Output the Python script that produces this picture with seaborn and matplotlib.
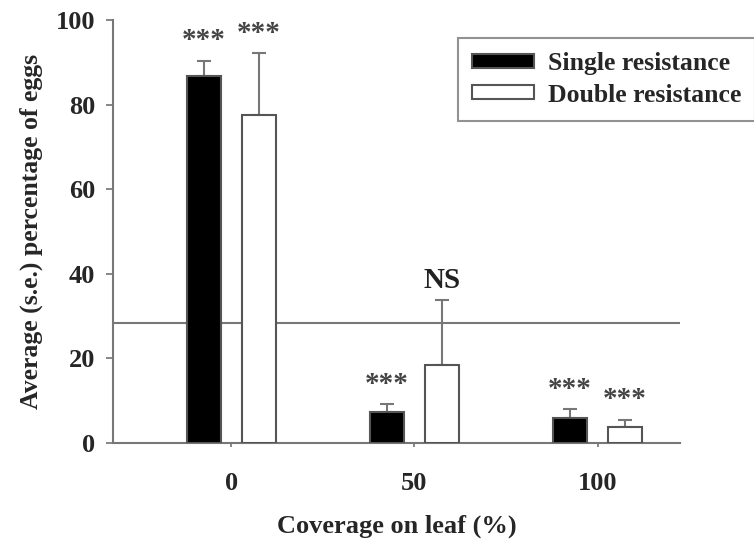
import matplotlib.pyplot as plt
import seaborn as sns
import pandas as pd

plt.switch_backend('Agg')
sns.set_theme(style="white")
plt.rcParams['font.family'] = ['Liberation Serif', 'DejaVu Serif']
plt.rcParams['font.weight'] = 'bold'

# data
coverage = ['0', '50', '100']
single_mean = [86.8, 7.3, 5.9]
single_se = [3.6, 1.8, 2.0]
double_mean = [77.5, 18.4, 3.8]
double_se = [14.7, 15.4, 1.7]
single_sig = ['***', '***', '***']
double_sig = ['***', 'NS', '***']
reference_level = 28.4

df = pd.DataFrame({
    'Coverage': coverage * 2,
    'Mean': single_mean + double_mean,
    'SE': single_se + double_se,
    'Type': ['Single resistance'] * 3 + ['Double resistance'] * 3,
})

fig = plt.figure(figsize=(7.54, 5.4), dpi=100)
ax = fig.add_axes([0.150, 0.180, 0.752, 0.783])

sns.barplot(data=df, x='Coverage', y='Mean', hue='Type', order=coverage,
            hue_order=['Single resistance', 'Double resistance'],
            palette={'Single resistance': 'black', 'Double resistance': 'white'},
            width=0.6, gap=0.38, errorbar=None, edgecolor='#555555',
            linewidth=1.5, ax=ax, zorder=3)

# upper-only error bars and significance labels
offsets = [-0.15, 0.15]
for j, (means, ses, sigs) in enumerate([(single_mean, single_se, single_sig),
                                        (double_mean, double_se, double_sig)]):
    for i in range(len(coverage)):
        x = i + offsets[j]
        ax.errorbar(x, means[i], yerr=[[0], [ses[i]]], fmt='none',
                    ecolor='#777777', elinewidth=1.5, capsize=5, capthick=1.5,
                    zorder=2)
        top = means[i] + ses[i]
        color = '#222222' if sigs[i] == 'NS' else '#444444'
        ax.text(x, top + 1.5, sigs[i], ha='center', va='bottom',
                fontsize=21, fontweight='bold', color=color)

ax.axhline(reference_level, color='#777777', lw=1.5, zorder=1)

ax.set_xlim(-0.645, 2.45)
ax.set_ylim(0, 100)
ax.set_yticks([0, 20, 40, 60, 80, 100])
ax.tick_params(axis='both', which='both', labelsize=19, length=5,
               color='#777777', direction='out', left=True, bottom=True)
ax.tick_params(axis='y', pad=8)
ax.tick_params(axis='x', length=3, pad=18)
for lab in ax.get_xticklabels() + ax.get_yticklabels():
    lab.set_fontweight('bold')

ax.set_xlabel('Coverage on leaf (%)', fontsize=19, fontweight='bold', labelpad=14)
ax.set_ylabel('Average (s.e.) percentage of eggs', fontsize=18.5,
              fontweight='bold', labelpad=9)

sns.despine(ax=ax)
for s in ['left', 'bottom']:
    ax.spines[s].set_color('#777777')
    ax.spines[s].set_linewidth(1.5)

leg = ax.legend(loc='upper left', bbox_to_anchor=(0.608, 0.957), frameon=True,
                fancybox=False, edgecolor='#777777', borderaxespad=0,
                handlelength=2.4, handleheight=0.47, handletextpad=0.55,
                borderpad=0.55, labelspacing=0.32,
                prop={'weight': 'bold', 'size': 18.5})
leg.get_frame().set_linewidth(1.5)

fig.savefig('out.png', dpi=100)
